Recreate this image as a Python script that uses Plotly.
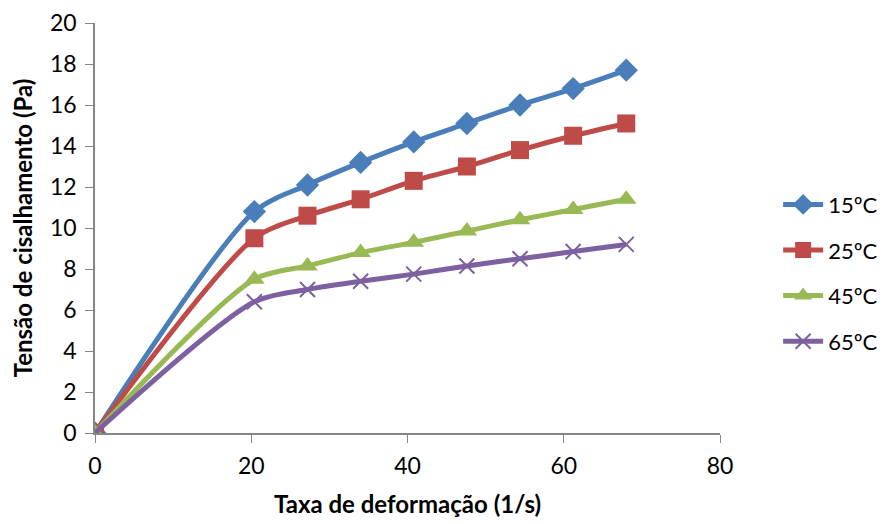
import plotly.graph_objects as go

x_rate = [0, 20.4, 27.2, 34, 40.8, 47.6, 54.4, 61.2, 68]
y_15 = [0, 10.8, 12.1, 13.2, 14.2, 15.1, 16.0, 16.8, 17.7]
y_25 = [0, 9.5, 10.6, 11.4, 12.3, 13.0, 13.8, 14.5, 15.1]
y_45 = [0, 7.5, 8.15, 8.8, 9.3, 9.85, 10.4, 10.9, 11.4]
y_65 = [0, 6.4, 7.0, 7.4, 7.75, 8.15, 8.5, 8.85, 9.2]
names = ["15ºC", "25ºC", "45ºC", "65ºC"]
x_ticks = [0, 20, 40, 60, 80]
y_ticks = [0, 2, 4, 6, 8, 10, 12, 14, 16, 18, 20]

colors = ["#4a7ebb", "#be4b48", "#98b954", "#7d60a0"]
symbols = ["diamond", "square", "triangle-up", "x-thin"]
sizes = [18, 18, 18, 15]

fig = go.Figure()
for i, (name, ys) in enumerate(zip(names, [y_15, y_25, y_45, y_65])):
    marker = dict(symbol=symbols[i], size=sizes[i], color=colors[i])
    if symbols[i] == "x-thin":
        marker["line"] = dict(color=colors[i], width=2)
    fig.add_trace(go.Scatter(
        x=x_rate, y=ys, name=name, mode="lines+markers",
        line=dict(color=colors[i], width=5, shape="spline", smoothing=0.8),
        marker=marker, legendgroup=name,
    ))

font = "Lato, 'Open Sans', sans-serif"
fig.update_layout(
    width=887, height=524,
    margin=dict(l=87, r=173, t=15, b=99),
    paper_bgcolor="white", plot_bgcolor="white",
    font=dict(family=font, size=23, color="black"),
    showlegend=True,
    legend=dict(x=1.093, y=0.39, xanchor="left", yanchor="middle",
                font=dict(size=22), tracegroupgap=14, itemwidth=40),
    xaxis=dict(range=[0, 80], tickvals=x_ticks, showgrid=False, zeroline=False,
               showline=True, linecolor="#868686", linewidth=1.5, automargin=False,
               ticks="outside", tickcolor="#868686", ticklen=8, ticklabelstandoff=4,
               tickfont=dict(size=23),
               title=dict(text="<b>Taxa de deformação (1/s)</b>", font=dict(size=24), standoff=18)),
    yaxis=dict(range=[0, 20], tickvals=y_ticks, showgrid=False, zeroline=False,
               showline=True, linecolor="#868686", linewidth=1.5, automargin=False,
               ticks="outside", tickcolor="#868686", ticklen=8, ticklabelstandoff=4,
               tickfont=dict(size=23),
               title=dict(text="<b>Tensão de cisalhamento (Pa)</b>", font=dict(size=24), standoff=12)),
)
fig.write_html("out.html")
